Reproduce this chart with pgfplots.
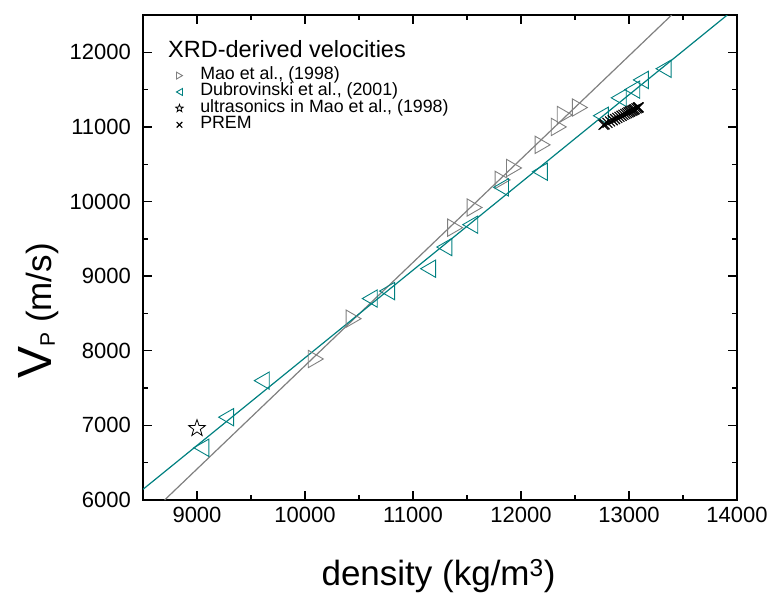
\documentclass[border=0pt]{standalone}
\usepackage{fontspec}
\setmainfont{Liberation Sans}
\usepackage{pgfplots}
\pgfplotsset{compat=1.18}

\definecolor{dcyan}{RGB}{0,128,128}
\definecolor{mgray}{RGB}{128,128,128}
\newcommand{\lgf}{\fontsize{17.8}{18}\selectfont}

% open triangles centred on their bounding box, and an open five-pointed star
\pgfdeclareplotmark{rtri}{%
  \pgfpathmoveto{\pgfpoint{0.75\pgfplotmarksize}{0pt}}%
  \pgfpathlineto{\pgfpoint{-0.75\pgfplotmarksize}{0.866\pgfplotmarksize}}%
  \pgfpathlineto{\pgfpoint{-0.75\pgfplotmarksize}{-0.866\pgfplotmarksize}}%
  \pgfpathclose\pgfusepathqstroke}
\pgfdeclareplotmark{ltri}{%
  \pgfpathmoveto{\pgfpoint{-0.75\pgfplotmarksize}{0pt}}%
  \pgfpathlineto{\pgfpoint{0.75\pgfplotmarksize}{0.866\pgfplotmarksize}}%
  \pgfpathlineto{\pgfpoint{0.75\pgfplotmarksize}{-0.866\pgfplotmarksize}}%
  \pgfpathclose\pgfusepathqstroke}
\pgfdeclareplotmark{ostar}{%
  \pgfpathmoveto{\pgfpointpolar{90}{\pgfplotmarksize}}%
  \pgfpathlineto{\pgfpointpolar{126}{0.4\pgfplotmarksize}}%
  \pgfpathlineto{\pgfpointpolar{162}{\pgfplotmarksize}}%
  \pgfpathlineto{\pgfpointpolar{198}{0.4\pgfplotmarksize}}%
  \pgfpathlineto{\pgfpointpolar{234}{\pgfplotmarksize}}%
  \pgfpathlineto{\pgfpointpolar{270}{0.4\pgfplotmarksize}}%
  \pgfpathlineto{\pgfpointpolar{306}{\pgfplotmarksize}}%
  \pgfpathlineto{\pgfpointpolar{342}{0.4\pgfplotmarksize}}%
  \pgfpathlineto{\pgfpointpolar{18}{\pgfplotmarksize}}%
  \pgfpathlineto{\pgfpointpolar{54}{0.4\pgfplotmarksize}}%
  \pgfpathclose\pgfusepathqstroke}

\begin{document}
\begin{tikzpicture}
\useasboundingbox (-143pt,-94pt) rectangle (630pt,500pt);
\begin{axis}[
    at={(0,0)}, anchor=south west,
    width=594pt, height=485pt, scale only axis,
    xmin=8500, xmax=14000, ymin=6000, ymax=12500,
    xtick={9000,10000,...,14000},
    ytick={6000,7000,...,12000},
    minor x tick num=1, minor y tick num=1,
    tick align=inside,
    major tick length=9pt, minor tick length=5pt,
    every tick/.style={black, line width=1.4pt},
    axis line style={line width=1.6pt},
    /pgf/number format/assume math mode=true,
    /pgf/number format/1000 sep={},
    scaled ticks=false,
    ticklabel style={font=\fontsize{22}{26}\selectfont},
    xticklabel style={anchor=base, yshift=-22pt, inner sep=0pt},
    yticklabel style={anchor=east, xshift=-12pt, inner sep=0pt},
    xlabel={density (kg/m\textsuperscript{3})},
    xlabel style={at={(axis description cs:0.4975,-0.1773)}, anchor=base,
        font=\fontsize{35}{40}\selectfont},
    ylabel={{\fontsize{48}{48}\selectfont V}\raisebox{-3pt}{\fontsize{21}{21}\selectfont P} (m/s)},
    ylabel style={at={(axis description cs:-0.1532,0.39)}, anchor=base,
        font=\fontsize{35}{40}\selectfont},
    legend style={draw=none, fill=none, at={(rel axis cs:0.055,0.892)},
        anchor=north west, inner sep=0pt, outer sep=0pt,
        row sep=0pt, column sep=17pt,
        nodes={inner sep=0pt, text height=12pt, text depth=4.4pt}},
    legend cell align=left,
    legend image post style={mark size=4pt},
]
% linear fits
\addplot[mgray, line width=1.2pt, forget plot] coordinates {(8700,6000) (13395,12500)};
\addplot[dcyan, line width=1.2pt, forget plot] coordinates {(8500,6143) (13910,12500)};

% Mao et al. (1998)
\addplot[only marks, mark=rtri, mark size=10pt, mgray, line width=0.9pt] coordinates {
    (10100,7890) (10450,8430) (11390,9650) (11570,9920) (11830,10290)
    (11935,10450) (12200,10760) (12350,11000) (12405,11160) (12545,11260)
};
\addlegendentry{\lgf Mao et al., (1998)}

% Dubrovinski et al. (2001)
\addplot[only marks, mark=ltri, mark size=10pt, dcyan, line width=0.9pt] coordinates {
    (9040,6700) (9270,7110) (9600,7600) (10600,8700) (10760,8800)
    (11140,9100) (11290,9390) (11530,9690) (11815,10190) (12175,10400)
    (12740,11150) (12905,11390) (13030,11500) (13110,11630) (13320,11780)
};
\addlegendentry{\lgf Dubrovinski et al., (2001)}

% ultrasonics
\addplot[only marks, mark=ostar, mark size=8.8pt, black, line width=0.8pt] coordinates {
    (9000,6960)
};
\addlegendentry{\lgf ultrasonics in Mao et al., (1998)}

% PREM inner core
\addplot[only marks, mark=x, mark size=7pt, black, line width=1.1pt] coordinates {
    (12764,11028) (12775,11036) (12801,11055) (12825,11073) (12849,11090)
    (12871,11105) (12892,11120) (12912,11135) (12931,11149) (12949,11162)
    (12966,11174) (12982,11185) (12996,11196) (13010,11206) (13023,11215)
    (13034,11223) (13044,11230) (13054,11237) (13069,11248) (13080,11256)
    (13086,11261) (13089,11262)
};
\addlegendentry{\lgf PREM}

\node[anchor=base west, inner sep=0pt, font=\fontsize{23.5}{28}\selectfont]
    at (rel axis cs:0.042,0.9128) {XRD-derived velocities};
\end{axis}
\end{tikzpicture}
\end{document}
